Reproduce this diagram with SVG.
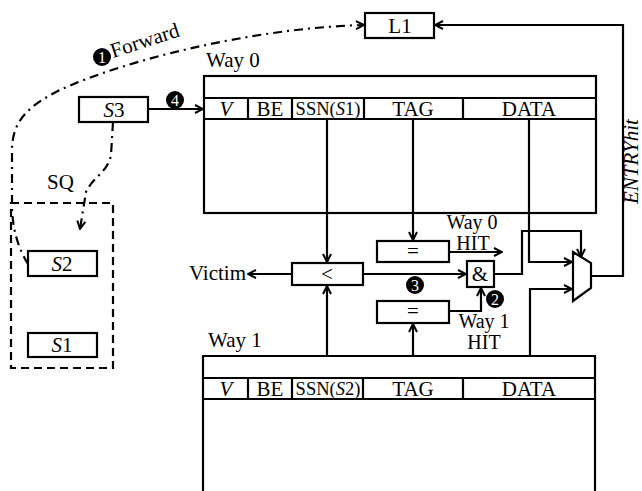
<svg xmlns="http://www.w3.org/2000/svg" width="642" height="491" viewBox="0 0 642 491">
<style>
text{font-family:"Liberation Serif","Times New Roman",serif;font-size:21px;fill:#000}
.box{fill:#fff;stroke:#000;stroke-width:2.2}
.ln{fill:none;stroke:#000;stroke-width:2.2}
.dd{fill:none;stroke:#000;stroke-width:2.2;stroke-dasharray:9,5,2,5}
.ds{fill:none;stroke:#000;stroke-width:2.2;stroke-dasharray:8,5}
.c{text-anchor:middle}
.it{font-style:italic}
.num{font-size:16px;fill:#fff;text-anchor:middle}
.f18{font-size:18.5px}
.hit{font-size:20px}
</style>
<defs>
<marker id="arr" viewBox="0 0 10 10" refX="9" refY="5" markerWidth="10" markerHeight="10" markerUnits="userSpaceOnUse" orient="auto">
<path d="M1,1 L9,5 L1,9" fill="none" stroke="#000" stroke-width="2"/>
</marker>
</defs>

<g id="way0">
<text x="206" y="67">Way 0</text>
<rect class="box" x="204" y="76" width="392" height="137"/>
<path class="ln" d="M204,98 H596 M204,119 H596 M248,98 V119 M292,98 V119 M364,98 V119 M463,98 V119"/>
<text class="c it" x="226" y="116">V</text>
<text class="c" x="270" y="116">BE</text>
<text class="c f18" x="328" y="115">SSN(<tspan class="it">S</tspan>1)</text>
<text class="c" x="413" y="116">TAG</text>
<text class="c" x="529" y="116">DATA</text>
</g>

<g id="way1">
<text x="208" y="347">Way 1</text>
<path class="ln" d="M203,500 V356 H595 V500 M203,378 H595 M203,399 H595 M248,378 V399 M292,378 V399 M363,378 V399 M463,378 V399"/>
<text class="c it" x="226" y="396">V</text>
<text class="c" x="270" y="396">BE</text>
<text class="c f18" x="328" y="395">SSN(<tspan class="it">S</tspan>2)</text>
<text class="c" x="413" y="396">TAG</text>
<text class="c" x="529" y="396">DATA</text>
</g>

<g id="L1">
<rect class="box" x="365" y="13" width="69" height="25"/>
<text class="c" x="400" y="33">L1</text>
</g>

<g id="S3">
<rect class="box" x="79" y="97" width="69" height="25"/>
<text class="c" x="114" y="117"><tspan class="it">S</tspan>3</text>
</g>

<g id="SQ">
<text x="47" y="189">SQ</text>
<rect class="ds" x="11" y="203" width="102" height="165"/>
<rect class="box" x="28" y="251" width="69" height="25"/>
<text class="c" x="62" y="271"><tspan class="it">S</tspan>2</text>
<rect class="box" x="28" y="333" width="69" height="24"/>
<text class="c" x="62" y="352"><tspan class="it">S</tspan>1</text>
</g>

<g id="cmpLess">
<rect class="box" x="292" y="263" width="71" height="22"/>
<text class="c" x="327" y="281">&lt;</text>
</g>

<g id="eq0">
<rect class="box" x="377" y="241" width="72" height="21"/>
<text class="c" x="413" y="258">=</text>
</g>

<g id="eq1">
<rect class="box" x="377" y="301" width="72" height="22"/>
<text class="c" x="413" y="318">=</text>
</g>

<g id="and">
<rect class="box" x="467" y="261" width="27" height="26"/>
<text class="c" x="480" y="281">&amp;</text>
</g>

<g id="mux">
<path class="box" d="M573,252 L591,263 L591,288 L573,301 Z"/>
</g>

<g id="labels">
<text x="113" y="58" transform="rotate(-18 113 58)">Forward</text>
<text class="c hit" x="472" y="229">Way 0</text>
<text class="c hit" x="473" y="250">HIT</text>
<text class="c hit" x="484" y="328">Way 1</text>
<text class="c hit" x="484" y="349">HIT</text>
<text x="246" y="280" text-anchor="end">Victim</text>
<text class="it" x="637.5" y="204" font-size="19" transform="rotate(-90 637.5 204)">ENTRYhit</text>
</g>

<g id="badges">
<circle cx="102" cy="57" r="9"/><text class="num" x="102" y="63">1</text>
<circle cx="495" cy="299" r="9"/><text class="num" x="495" y="305">2</text>
<circle cx="415" cy="285" r="9"/><text class="num" x="415" y="291">3</text>
<circle cx="175" cy="100" r="9"/><text class="num" x="175" y="106">4</text>
</g>

<g id="connectors">
<path class="ln" marker-end="url(#arr)" d="M148,109 L203,109"/>
<path class="ln" marker-end="url(#arr)" d="M591,276 L623,276 L623,25 L435,25"/>
<path class="dd" marker-end="url(#arr)" d="M28,264 C18,248 12,228 12,205 L12,150 C12,120 30,105 60,90 C120,62 250,28 364,25"/>
<path class="dd" marker-end="url(#arr)" d="M113,122 L111,155 C108,172 92,178 86,192 L80,229"/>
<path class="ln" marker-end="url(#arr)" d="M327,119 L327,262"/>
<path class="ln" marker-end="url(#arr)" d="M327,356 L327,286"/>
<path class="ln" marker-end="url(#arr)" d="M413,119 L413,240"/>
<path class="ln" marker-end="url(#arr)" d="M413,356 L413,324"/>
<path class="ln" marker-end="url(#arr)" d="M449,252 L502,252"/>
<path class="ln" marker-end="url(#arr)" d="M449,311 L481,311 L481,288"/>
<path class="ln" marker-end="url(#arr)" d="M363,274 L466,274"/>
<path class="ln" marker-end="url(#arr)" d="M292,274 L248,274"/>
<path class="ln" marker-end="url(#arr)" d="M494,274 L522,274 L522,231 L581,231 L581,257"/>
<path class="ln" marker-end="url(#arr)" d="M529,119 L529,262 L572,262"/>
<path class="ln" marker-end="url(#arr)" d="M530,356 L530,289 L572,289"/>
</g>
</svg>
